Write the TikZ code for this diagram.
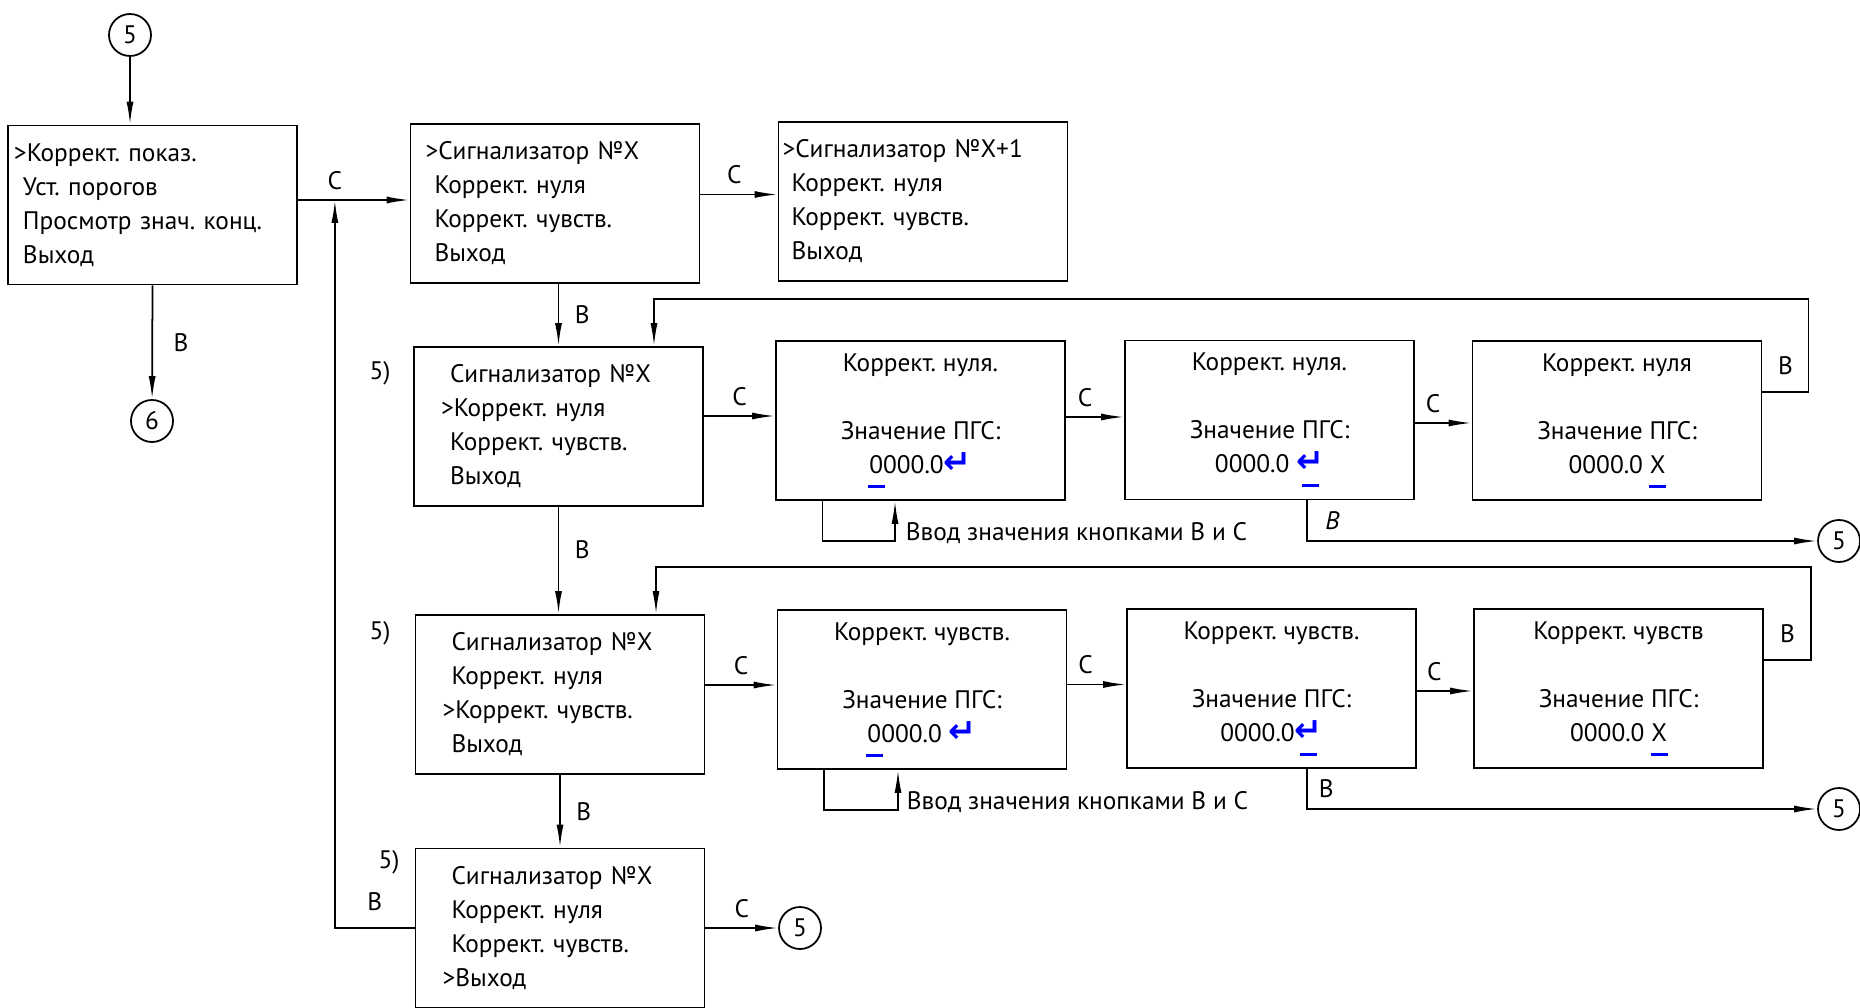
\documentclass[tikz,border=0pt]{standalone}
\usepackage{calc}
\usepackage{fontspec}
\setmainfont{PT Sans}
\newfontfamily\arrfont{DejaVu Sans}
\usepackage{xcolor}
\usetikzlibrary{arrows.meta}
\frenchspacing

\newcommand{\ret}{{\arrfont\bfseries\fontsize{9.5}{9.67}\selectfont\color{blue}↵}}
\newcommand{\curs}[1]{\setbox0\hbox{#1}\rlap{\hbox to\wd0{\hss\color{blue}\rule[-1.45mm]{1.7mm}{0.3mm}\hss}}#1}
\newcommand{\ind}{\hspace*{0.9mm}}

\begin{document}
\begin{tikzpicture}[
    >={Latex[length=2.3mm,width=0.7mm]},
    line width=0.5pt,
    every node/.style={font=\fontsize{7.2}{9.67}\selectfont},
    box/.style={rectangle, draw, minimum width=2.89cm, minimum height=1.59cm, inner ysep=0pt},
    menu/.style={box, inner xsep=#1, text width=2.89cm-#1-#1, align=left},
    val/.style={box, align=center},
    circ/.style={circle, draw, minimum size=0.42cm, inner sep=0pt},
    lbl/.style={inner sep=1pt}
]
    \useasboundingbox (0,0) rectangle (18.6,10.07);

    % Main menu
    \node[circ] (c5a) at (1.30,9.72) {5};
    \node[menu=0.6mm] (b1) at (1.525,8.02) {>Коррект. показ.\\ \ind Уст. порогов\\ \ind Просмотр знач. конц.\\ \ind Выход};
    \node[circ] (c6) at (1.52,5.86) {6};

    % Sensor menus
    \node[menu=1.5mm] (b2) at (5.55,8.035) {>Сигнализатор №X\\ \ind Коррект. нуля\\ \ind Коррект. чувств.\\ \ind Выход};
    \node[menu=0.4mm] (b3) at (9.23,8.055) {>Сигнализатор №X+1\\ \ind Коррект. нуля\\ \ind Коррект. чувств.\\ \ind Выход};
    \node[menu=2.7mm] (b4) at (5.585,5.805) {\ind Сигнализатор №X\\>Коррект. нуля\\ \ind Коррект. чувств.\\ \ind Выход};
    \node[menu=2.7mm] (b8) at (5.60,3.125) {\ind Сигнализатор №X\\ \ind Коррект. нуля\\>Коррект. чувств.\\ \ind Выход};
    \node[menu=2.7mm] (b12) at (5.60,0.79) {\ind Сигнализатор №X\\ \ind Коррект. нуля\\ \ind Коррект. чувств.\\>Выход};
    \node (n4) at (3.80,6.34) {5)};
    \node (n8) at (3.80,3.74) {5)};
    \node (n12) at (3.89,1.45) {5)};

    % Zero correction
    \node[val] (b5) at (9.205,5.865) {Коррект. нуля.\\[3.4mm] Значение ПГС:\\ \curs{0}000.0\ret};
    \node[val] (b6) at (12.695,5.87) {Коррект. нуля.\\[3.4mm] Значение ПГС:\\ 0000.0 \curs{\ret}};
    \node[val] (b7) at (16.17,5.865) {Коррект. нуля\\[3.4mm] Значение ПГС:\\ 0000.0 \curs{X}};
    \node[circ] (c5b) at (18.39,4.66) {5};

    % Sensitivity correction
    \node[val] (b9) at (9.22,3.175) {Коррект. чувств.\\[3.4mm] Значение ПГС:\\ \curs{0}000.0 \ret};
    \node[val] (b10) at (12.715,3.185) {Коррект. чувств.\\[3.4mm] Значение ПГС:\\ 0000.0\curs{\ret}};
    \node[val] (b11) at (16.185,3.185) {Коррект. чувств\\[3.4mm] Значение ПГС:\\ 0000.0 \curs{X}};
    \node[circ] (c5c) at (18.39,1.98) {5};
    \node[circ] (c5d) at (8.00,0.79) {5};

    % Arrows C
    \path (b1.east) ++(0,0.05) coordinate (p1);
    \path (b2.east) ++(0,0.09) coordinate (p2);
    \path (b4.east) ++(0,0.105) coordinate (p4);
    \path (b5.east) ++(0,0.035) coordinate (p5);
    \path (b6.east) ++(0,-0.03) coordinate (p6);
    \path (b8.east) ++(0,0.095) coordinate (p8);
    \path (b9.east) ++(0,0.05) coordinate (p9);
    \path (b10.east) ++(0,-0.025) coordinate (p10);
    \draw[->] (p1) -- (p1 -| b2.west) node[lbl, pos=0.33, above=0.6mm] (lc1) {С};
    \draw[->] (p2) -- (p2 -| b3.west) node[lbl, pos=0.44, above=0.6mm] (lc2) {С};
    \draw[->] (p4) -- (p4 -| b5.west) node[lbl, pos=0.5, above=0.6mm] (lc4) {С};
    \draw[->] (p5) -- (p5 -| b6.west) node[lbl, pos=0.33, above=0.6mm] (lc5) {С};
    \draw[->] (p6) -- (p6 -| b7.west) node[lbl, pos=0.32, above=0.6mm] (lc6) {С};
    \draw[->] (p8) -- (p8 -| b9.west) node[lbl, pos=0.5, above=0.6mm] (lc8) {С};
    \draw[->] (p9) -- (p9 -| b10.west) node[lbl, pos=0.31, above=0.6mm] (lc9) {С};
    \draw[->] (p10) -- (p10 -| b11.west) node[lbl, pos=0.31, above=0.6mm] (lc10) {С};
    \draw[->] (b12.east) -- (c5d) node[lbl, pos=0.5, above=0.6mm] (lc12) {С};

    % Arrows B
    \draw[->] (c5a) -- (c5a |- b1.north);
    \draw[->] (b1.south) -- (c6) node[lbl, midway, right=1.7mm] (lb1) {В};
    \draw[->] (b4.north |- b2.south) -- (b4.north) node[lbl, midway, right=1.2mm] (lb2) {В};
    \draw[->] (b4.south) -- (b4.south |- b8.north) node[lbl, pos=0.4, right=1.2mm] (lb4) {В};
    \draw[->] (b8.south) -- (b12.north) node[lbl, midway, right=1.2mm] (lb8) {В};
    \draw[->] (b12.west) -| node[lbl, pos=0.25, above=1.3mm] (lb12) {В} ([xshift=3.7mm]p1);

    % Back to sensor menu
    \draw[->] (b7.east) ++(0,0.285) coordinate (q7) -- ++(0.46,0) node[lbl, midway, above=1.3mm] (lb7) {В} -- ++(0,0.93) -| ([xshift=0.955cm]b4.north);
    \draw[->] (b11.east) ++(0,0.285) coordinate (q11) -- ++(0.47,0) node[lbl, midway, above=1.3mm] (lb11) {В} -- ++(0,0.93) -| ([xshift=0.96cm]b8.north);

    % Exit to 5
    \draw[->] ([xshift=3.75mm]b6.south) |- (c5b) node[lbl, pos=0.25, right=1.4mm] (lb6) {\textit{В}};
    \draw[->] ([xshift=3.55mm]b10.south) |- (c5c) node[lbl, pos=0.25, right=0.75mm] (lb10) {В};

    % Value input loops
    \draw[->] ([xshift=-9.8mm]b5.south) -- ++(0,-0.4) -| node[lbl, pos=0.5, anchor=base west, xshift=0.65mm] (in5) {Ввод значения кнопками В и С} ([xshift=-2.55mm]b5.south);
    \draw[->] ([xshift=-9.8mm]b9.south) -- ++(0,-0.4) -| node[lbl, pos=0.5, anchor=base west, xshift=0.45mm] (in9) {Ввод значения кнопками В и С} ([xshift=-2.4mm]b9.south);
\end{tikzpicture}
\end{document}
